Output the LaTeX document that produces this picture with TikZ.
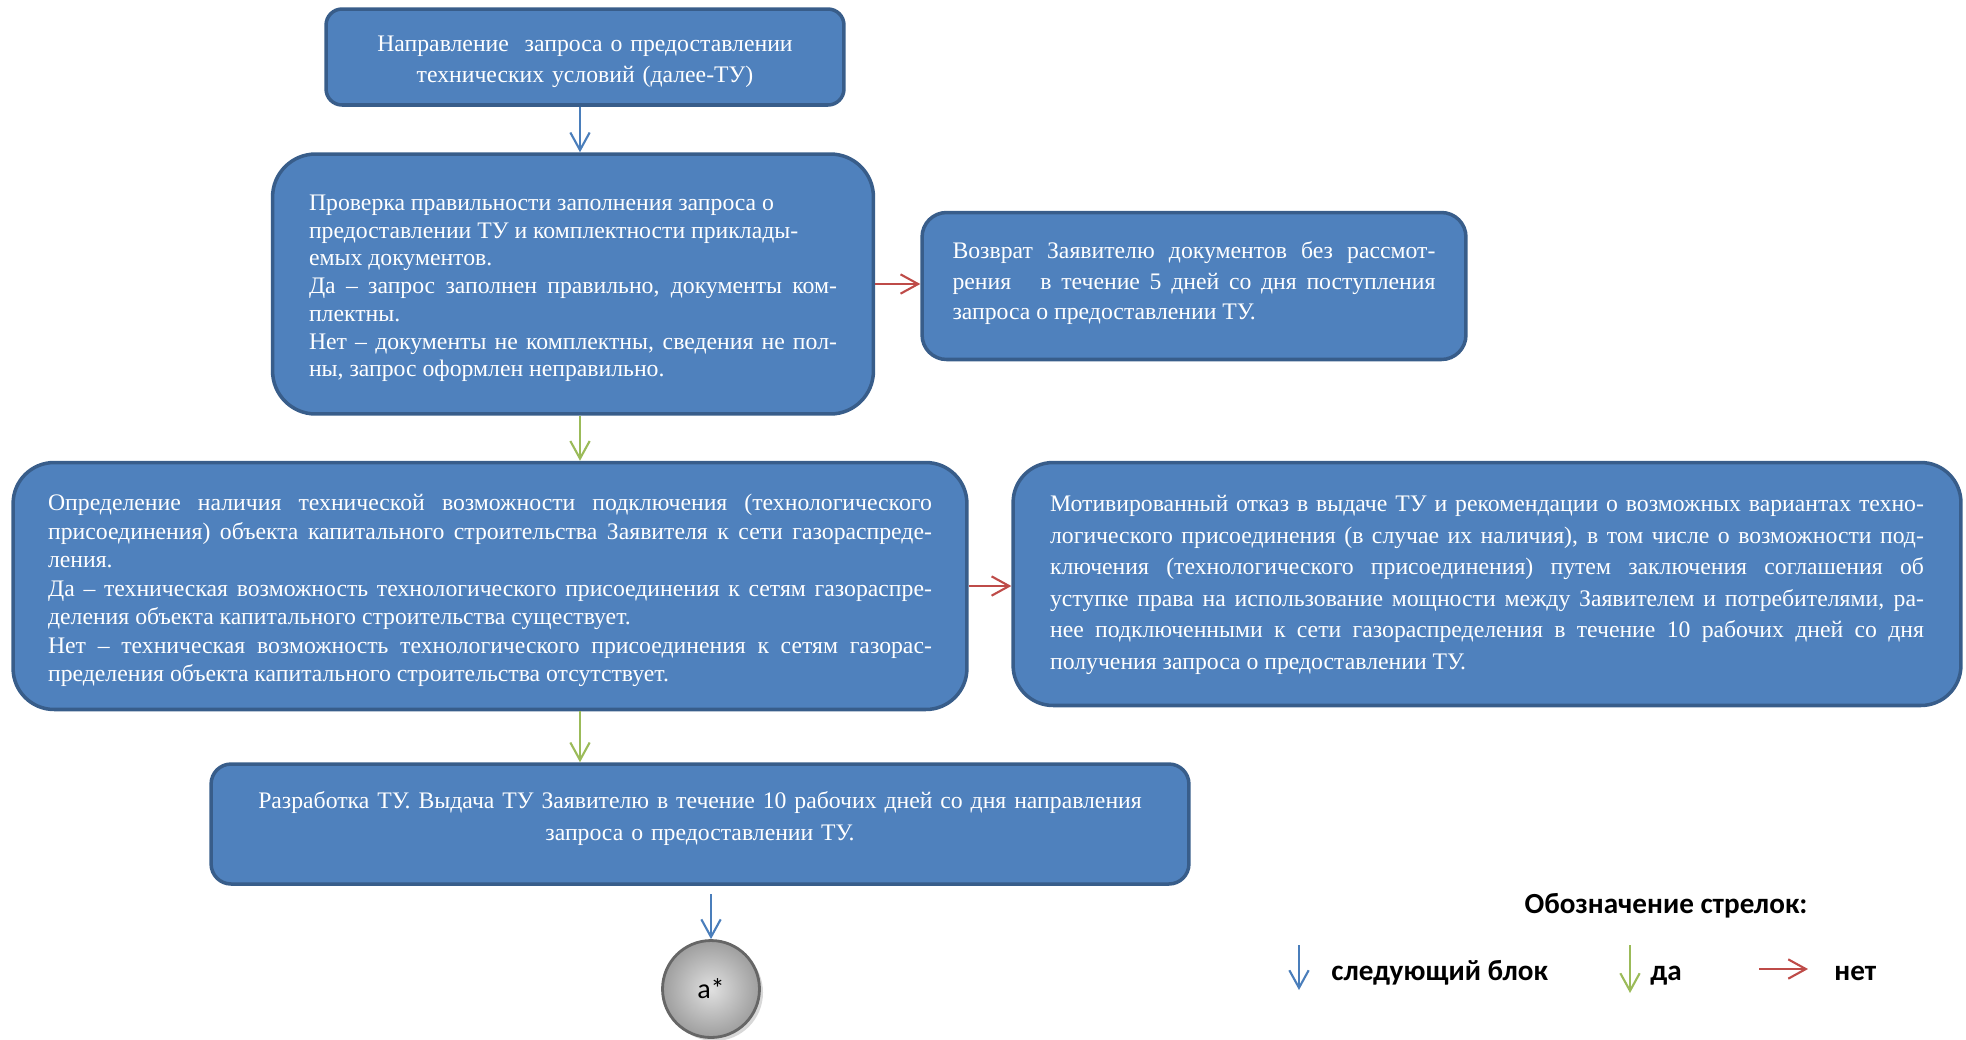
\documentclass[tikz,border=0pt]{standalone}
\usepackage{fontspec}
\setmainfont{Liberation Serif}
\newfontfamily\timesru{Liberation Serif}
\newfontfamily\calibrifont{Carlito}
\usetikzlibrary{arrows.meta,shadows}

\definecolor{boxfill}{HTML}{4F81BD}
\definecolor{boxline}{HTML}{385D8A}
\definecolor{arrblue}{HTML}{4A7EBB}
\definecolor{arrgreen}{HTML}{9BBB59}
\definecolor{arrred}{HTML}{BE4B48}

\tikzset{
    block/.style={draw=boxline, fill=boxfill, line width=2pt, text=white, inner sep=0pt,
                  execute at begin node=\timesru, execute at end node={\par\vspace*{-5pt}}},
    nextarr/.style={draw=arrblue, line width=1.2pt, -{Straight Barb[length=10pt,width=11pt]}},
    yesarr/.style={nextarr, draw=arrgreen},
    noarr/.style={nextarr, draw=arrred},
    legend/.style={font=\calibrifont\bfseries\fontsize{16.6}{19}\selectfont, anchor=base west, inner sep=0pt}
}

\begin{document}
\begin{tikzpicture}[x=0.02cm, y=-0.02cm]
        \useasboundingbox (0,0) rectangle (1966,1039);

        % запрос
        \node[block, minimum width=10.36cm, minimum height=1.92cm, rounded corners=0.32cm,
              text width=9.6cm, align=center, font=\fontsize{13.5}{17.6}\selectfont] (zapros) at (585,57)
            {Направление~ запроса о предоставлении\\технических условий (далее-ТУ)};

        % проверка
        \node[block, minimum width=12.02cm, minimum height=5.2cm, rounded corners=0.86cm,
              text width=10.56cm, align=justify, font=\fontsize{13.5}{15.8}\selectfont] (proverka) at (573,284)
            {Проверка правильности заполнения запроса о\\
             предоставлении ТУ и комплектности приклады-\\
             емых документов.\\
             Да – запрос заполнен правильно, документы ком-\linebreak
             плектны.\\
             Нет – документы не комплектны, сведения не пол-\linebreak
             ны, запрос оформлен неправильно.};

        % возврат
        \node[block, minimum width=10.88cm, minimum height=2.94cm, rounded corners=0.49cm,
              text width=9.66cm, align=justify, font=\fontsize{13.5}{17.4}\selectfont] (vozvrat) at (1194,286)
            {Возврат Заявителю документов без рассмот-\linebreak
             рения~~ в течение 5 дней со дня поступления\linebreak
             запроса о предоставлении ТУ.\par\vspace*{8pt}};

        % определение
        \node[block, minimum width=19.08cm, minimum height=4.94cm, rounded corners=0.82cm,
              text width=17.68cm, align=justify, font=\fontsize{13.5}{16.2}\selectfont] (opredelenie) at (490,586)
            {Определение наличия технической возможности подключения (технологического\linebreak
             присоединения) объекта капитального строительства Заявителя к сети газораспреде-\linebreak
             ления.\\
             Да – техническая возможность технологического присоединения к сетям газораспре-\linebreak
             деления объекта капитального строительства существует.\\
             Нет – техническая возможность технологического присоединения к сетям газорас-\linebreak
             пределения объекта капитального строительства отсутствует.};

        % отказ
        \node[block, minimum width=18.96cm, minimum height=4.86cm, rounded corners=0.8cm,
              text width=17.48cm, align=justify, font=\fontsize{13.5}{17.9}\selectfont] (otkaz) at (1487,584)
            {Мотивированный отказ в выдаче ТУ и рекомендации о возможных вариантах техно-\linebreak
             логического присоединения (в случае их наличия), в том числе о возможности под-\linebreak
             ключения (технологического присоединения) путем заключения соглашения об\linebreak
             уступке права на использование мощности между Заявителем и потребителями, ра-\linebreak
             нее подключенными к сети газораспределения в течение 10 рабочих дней со дня\linebreak
             получения запроса о предоставлении ТУ.\par\vspace*{4pt}};

        % разработка
        \node[block, minimum width=19.56cm, minimum height=2.4cm, rounded corners=0.4cm,
              text width=18cm, align=center, font=\fontsize{13.5}{18.5}\selectfont] (razrabotka) at (700,824)
            {Разработка ТУ. Выдача ТУ Заявителю в течение 10 рабочих дней со дня направления\\
             запроса о предоставлении ТУ.\par\vspace*{11pt}};

        % выход
        \node[circle, draw=black!60, line width=1.6pt, minimum size=1.94cm, inner sep=0pt,
              inner color=black!12, outer color=black!38,
              drop shadow={shadow xshift=2pt, shadow yshift=-2pt, fill=black!30},
              font=\calibrifont\fontsize{16}{19}\selectfont] (konec) at (711,989) {а*};

        % стрелки
        \coordinate (stolb) at (580,0);
        \draw[nextarr] (zapros.south -| stolb) -- (proverka.north -| stolb);
        \draw[noarr] (proverka.east) -- (proverka.east -| vozvrat.west);
        \draw[yesarr] (proverka.south -| stolb) -- (opredelenie.north -| stolb);
        \draw[noarr] (opredelenie.east) -- (opredelenie.east -| otkaz.west);
        \draw[yesarr] (opredelenie.south -| stolb) -- (razrabotka.north -| stolb);
        \draw[nextarr] ([yshift=0.9cm]konec.north) -- (konec.north);

        % обозначения
        \node[legend, anchor=base] (lgtitle) at (1666,913) {Обозначение стрелок:};
        \coordinate (lgnextA) at (1299,945);
        \coordinate (lgnextB) at (1299,990);
        \draw[nextarr] (lgnextA) -- (lgnextB);
        \node[legend] (lgnext) at (1331,980) {следующий блок};
        \coordinate (lgyesA) at (1630,945);
        \coordinate (lgyesB) at (1630,993);
        \draw[yesarr] (lgyesA) -- (lgyesB);
        \node[legend] (lgyes) at (1650,980) {да};
        \coordinate (lgnoA) at (1759,969);
        \coordinate (lgnoB) at (1808,969);
        \draw[noarr] (lgnoA) -- (lgnoB);
        \node[legend] (lgno) at (1834,980) {нет};
    \end{tikzpicture}
\end{document}
